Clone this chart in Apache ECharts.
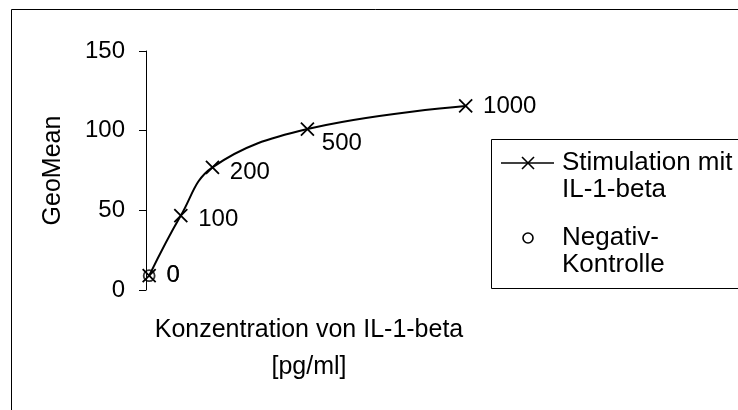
<!DOCTYPE html>
<html>
<head>
<meta charset="utf-8">
<script src="https://cdn.jsdelivr.net/npm/echarts@6/dist/echarts.min.js"></script>
<style>
  html, body { margin: 0; padding: 0; background: #fff; }
  #chart { width: 738px; height: 410px; }
</style>
</head>
<body>
<div id="chart"></div>
<script>
// IL-1-beta concentration series (pg/ml) and measured GeoMean values
const concentrations = [0, 100, 200, 500, 1000];
const geoMeanStim = [9, 46.7, 77, 101, 115.5];

// Negative control (no stimulation)
const negConcentrations = [0];
const geoMeanNeg = [9];

// Value axis range
const yMin = 0;
const yMax = 150;
const yStep = 50;

const stimName = 'Stimulation mit IL-1-beta';
const negName = 'Negativ-Kontrolle';
const stimLegendLines = ['Stimulation mit', 'IL-1-beta'];
const negLegendLines = ['Negativ-', 'Kontrolle'];

// Per-point label nudges so the labels clear the curve
const stimLabelShift = [[0, 0], [0, 4], [0, 5], [-3, 14], [0, 0]];

const FONT = "'Liberation Sans', Arial, sans-serif";
const crossPath = 'path://M0,0L12,12M12,0L0,12';

const stimData = concentrations.map((c, i) => ({
  value: [c, geoMeanStim[i]],
  label: { offset: stimLabelShift[i] }
}));
const negData = negConcentrations.map((c, i) => [c, geoMeanNeg[i]]);

// Boxed legend drawn at the right edge, two lines per entry
function legendText(lines, x, y, gap) {
  return lines.map((t, i) => ({
    type: 'text',
    x: x,
    y: y + i * gap,
    style: {
      text: t,
      fontFamily: FONT,
      fontSize: 26,
      fill: '#000',
      textAlign: 'left',
      textVerticalAlign: 'middle'
    },
    silent: true
  }));
}

function strokeLine(x1, y1, x2, y2, w) {
  return {
    type: 'line',
    shape: { x1: x1, y1: y1, x2: x2, y2: y2 },
    style: { stroke: '#000', lineWidth: w },
    silent: true
  };
}

const legendGraphics = [
  {
    type: 'rect',
    shape: { x: 491.5, y: 139.5, width: 400, height: 149 },
    style: { fill: 'none', stroke: '#000', lineWidth: 1 },
    silent: true
  },
  strokeLine(501, 163, 554, 163, 1.5),
  strokeLine(522, 157, 534, 169, 1.6),
  strokeLine(534, 157, 522, 169, 1.6),
  {
    type: 'circle',
    shape: { cx: 528, cy: 238, r: 5 },
    style: { fill: 'none', stroke: '#000', lineWidth: 1.6 },
    silent: true
  }
].concat(legendText(stimLegendLines, 562, 163, 27))
 .concat(legendText(negLegendLines, 562, 238, 27));

const chart = echarts.init(document.getElementById('chart'), null, { renderer: 'canvas' });

chart.setOption({
  animation: false,
  backgroundColor: '#fff',
  textStyle: { fontFamily: FONT, color: '#000' },
  grid: { left: 146, top: 51, width: 326, bottom: 120, containLabel: false },
  xAxis: {
    type: 'value',
    min: -10,
    max: 1020,
    axisLine: { show: false },
    axisTick: { show: false },
    axisLabel: { show: false },
    splitLine: { show: false },
    name: 'Konzentration von IL-1-beta\n[pg/ml]',
    nameLocation: 'middle',
    nameGap: 22,
    nameTextStyle: {
      fontFamily: FONT, fontSize: 25, color: '#000',
      lineHeight: 37, verticalAlign: 'top'
    }
  },
  yAxis: {
    type: 'value',
    min: yMin,
    max: yMax,
    interval: yStep,
    axisLine: { show: true, onZero: false, lineStyle: { color: '#000', width: 1 } },
    axisTick: { show: true, inside: false, length: 7, lineStyle: { color: '#000', width: 1 } },
    axisLabel: { fontFamily: FONT, fontSize: 24, color: '#000', margin: 21 },
    splitLine: { show: false },
    name: 'GeoMean',
    nameLocation: 'middle',
    nameGap: 80,
    nameRotate: 90,
    nameTextStyle: { fontFamily: FONT, fontSize: 25, color: '#000' }
  },
  graphic: [
    {
      type: 'rect',
      shape: { x: 11.5, y: 9.5, width: 900, height: 600 },
      style: { fill: 'none', stroke: '#000', lineWidth: 1 },
      silent: true
    }
  ].concat(legendGraphics),
  series: [
    {
      name: stimName,
      type: 'line',
      data: stimData,
      smooth: 0.4,
      symbol: crossPath,
      symbolSize: 13,
      showAllSymbol: true,
      lineStyle: { color: '#000', width: 2 },
      itemStyle: { color: '#000', borderColor: '#000', borderWidth: 1.8 },
      label: {
        show: true,
        position: 'right',
        distance: 10,
        formatter: p => String(p.value[0]),
        fontFamily: FONT, fontSize: 24, color: '#000'
      },
      z: 3
    },
    {
      name: negName,
      type: 'scatter',
      data: negData,
      symbol: 'circle',
      symbolSize: 11,
      itemStyle: { color: 'rgba(0,0,0,0)', borderColor: '#000', borderWidth: 1.8 },
      label: {
        show: true,
        position: 'right',
        distance: 11,
        formatter: p => String(p.value[0]),
        fontFamily: FONT, fontSize: 24, color: '#000'
      },
      z: 4
    }
  ]
});
</script>
</body>
</html>
